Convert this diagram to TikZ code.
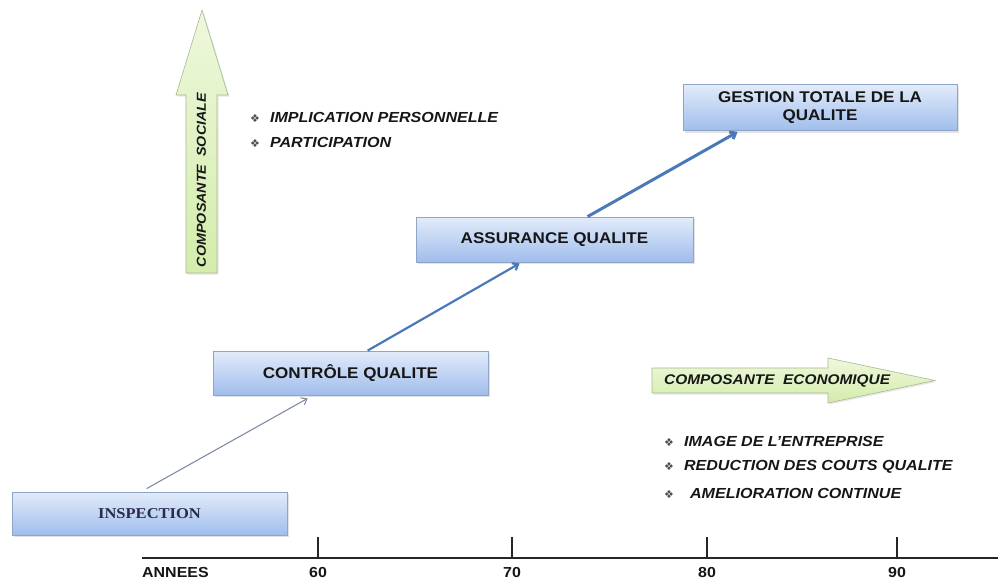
\documentclass[tikz,border=0pt]{standalone}
\usepackage{fontspec}
\setmainfont{Liberation Sans}
\newfontfamily\lsans[FakeStretch=1.1]{Liberation Sans}
\newfontfamily\lserif[FakeStretch=1.1]{Liberation Serif}
\newfontfamily\symfont{DejaVu Sans}
\usetikzlibrary{arrows.meta,shadows}

\definecolor{boxtop}{HTML}{E2ECFA}
\definecolor{boxbot}{HTML}{A0BDEC}
\definecolor{boxedge}{HTML}{8FA5C6}
\definecolor{greentop}{HTML}{EEF8DC}
\definecolor{greenbot}{HTML}{D4ECAC}
\definecolor{greenedge}{HTML}{A9B892}
\definecolor{textdark}{HTML}{161616}
\definecolor{navytext}{HTML}{2A2A4C}
\definecolor{linkthin}{HTML}{7E8CA4}
\definecolor{linkblue}{HTML}{4A78B8}

\newcommand{\bsym}{{\symfont\fontsize{11}{12}\selectfont\textcolor{black!70}{❖}}}

\tikzset{
  stage/.style={draw=boxedge, line width=0.8pt, top color=boxtop, bottom color=boxbot,
    drop shadow={shadow xshift=1.5pt, shadow yshift=-2pt, opacity=0.22},
    inner sep=0pt, align=center, text=textdark,
    font=\lsans\bfseries\fontsize{15.5}{18}\selectfont},
  greenarrow/.style={draw=greenedge, line width=0.6pt, top color=greentop, bottom color=greenbot,
    drop shadow={shadow xshift=1.5pt, shadow yshift=-1.5pt, opacity=0.18}},
  bullet/.style={anchor=west, inner sep=0pt, text=textdark,
    font=\lsans\bfseries\itshape\fontsize{14.6}{16}\selectfont},
  axislabel/.style={inner sep=0pt, text=textdark, font=\lsans\bfseries\fontsize{14.5}{16}\selectfont},
  link/.style={line width=#1, -{Straight Barb[length=5pt, width=8pt]}},
}

\begin{document}
\begin{tikzpicture}[x=1pt, y=-1pt]
\useasboundingbox (0,0) rectangle (998,581);

% stages of the quality approach
\node[stage, minimum width=275pt, minimum height=43pt, text=navytext,
      font=\lserif\bfseries\fontsize{15}{17}\selectfont] (insp) at (149.5,513.5) {INSPECTION};
\node[stage, minimum width=275pt, minimum height=44pt] (ctrl) at (350.5,373) {CONTRÔLE QUALITE};
\node[stage, minimum width=277pt, minimum height=45pt] (assur) at (554.5,239.5) {ASSURANCE QUALITE};
\node[stage, minimum width=274pt, minimum height=46pt] (gest) at (820,107.5) {GESTION TOTALE DE LA\\QUALITE};

% links between the stages
\draw[link=1.1pt, draw=linkthin]
  ([xshift=135pt, yshift=3pt]insp.north west) -- ([xshift=95pt, yshift=-3pt]ctrl.south west);
\draw[link=2.2pt, draw=linkblue]
  ([xshift=155pt]ctrl.north west) -- ([xshift=104pt, yshift=-1pt]assur.south west);
\draw[link=3pt, draw=linkblue]
  ([xshift=172pt]assur.north west) -- ([xshift=55pt, yshift=-1pt]gest.south west);

% social component: vertical arrow
\path[greenarrow] (186,273) -- (186,95) -- (176,95) -- (202,10) -- (228,95)
  -- (217,95) -- (217,273) -- cycle;
\node[rotate=90, inner sep=0pt, text=textdark,
      font=\lsans\bfseries\itshape\fontsize{13}{14}\selectfont] (soc) at (201.5,180)
  {COMPOSANTE\ \ SOCIALE};

\node[bullet] (s1) at (250,117) {\bsym\hspace{10pt}IMPLICATION PERSONNELLE};
\node[bullet] (s2) at (250,142) {\bsym\hspace{10pt}PARTICIPATION};

% economic component: horizontal arrow
\path[greenarrow] (652,368) -- (828,368) -- (828,358) -- (935,380.5) -- (828,403)
  -- (828,393) -- (652,393) -- cycle;
\node[anchor=west, inner sep=0pt, text=textdark,
      font=\lsans\bfseries\itshape\fontsize{14}{16}\selectfont] (eco) at (664,381)
  {COMPOSANTE\ \ ECONOMIQUE};

\node[bullet] (e1) at (664,441) {\bsym\hspace{10pt}IMAGE DE L’ENTREPRISE};
\node[bullet] (e2) at (664,467) {\bsym\hspace{10pt}REDUCTION DES COUTS QUALITE};
\node[bullet] (e3) at (664,493) {\bsym\hspace{16pt}AMELIORATION CONTINUE};

% time axis
\coordinate (ax0) at (142,558);
\coordinate (ax1) at (998,558);
\draw[line width=1.8pt, black!85] (ax0) -- (ax1);
\foreach \xx/\yr in {318/60, 512/70, 707/80, 897/90}{
  \coordinate (t\yr) at (\xx,558);
  \draw[line width=1.3pt, black!85] (t\yr) -- ++(0,-21);
  \node[axislabel] (l\yr) at (\xx,572) {\yr};
}
\node[axislabel, anchor=west] (years) at (142,572) {ANNEES};
\end{tikzpicture}
\end{document}
